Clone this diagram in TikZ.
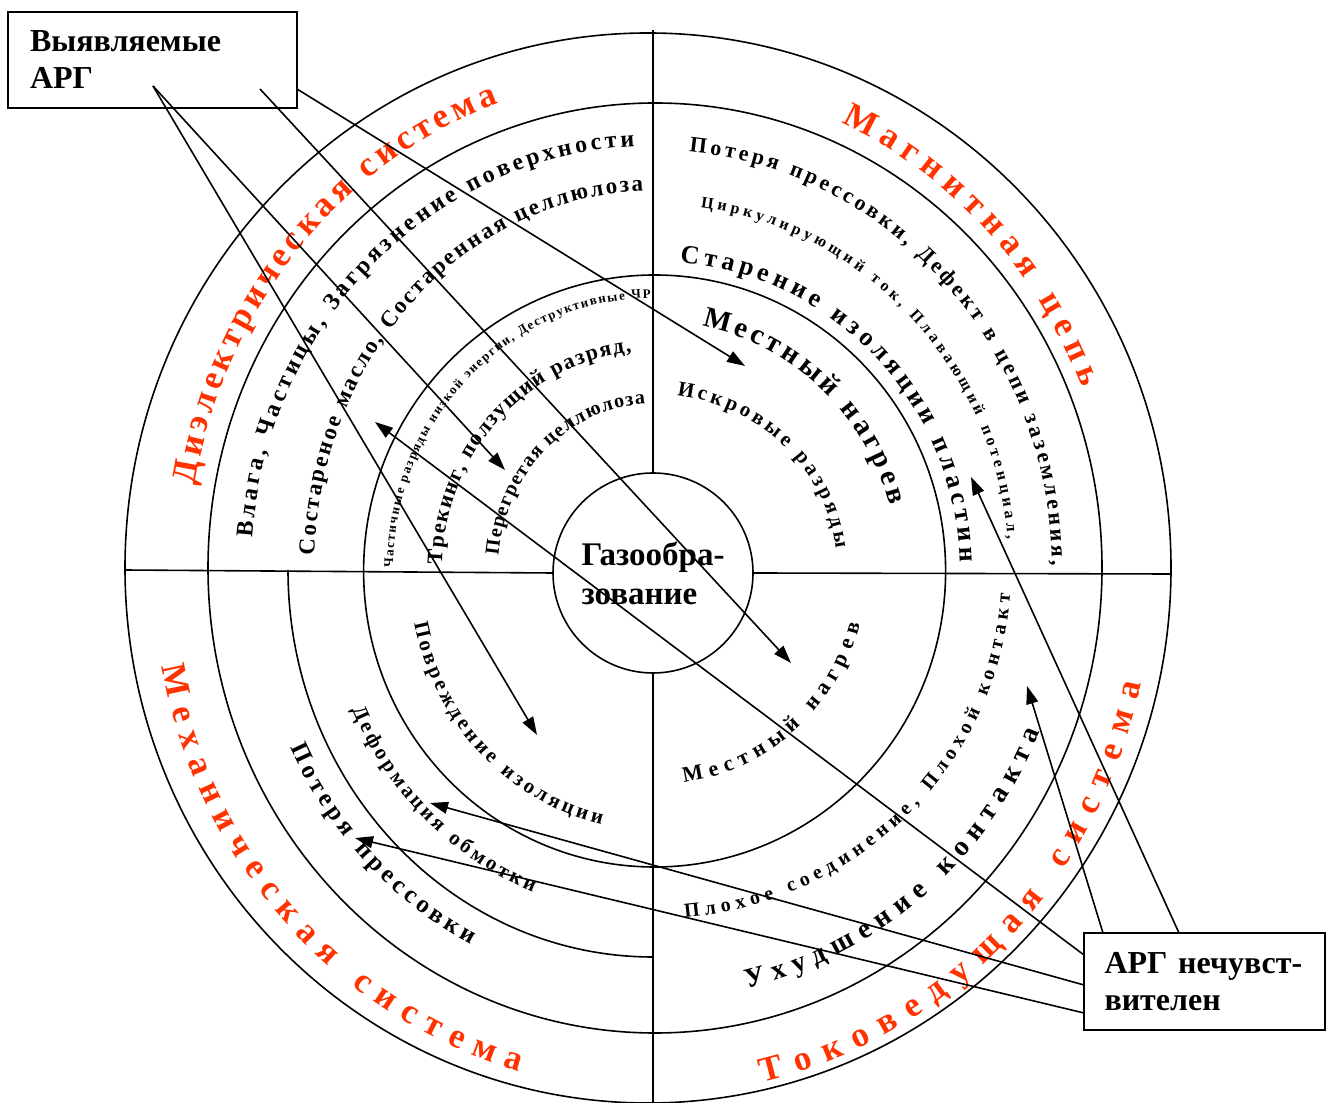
\documentclass[tikz,border=0pt]{standalone}
\usepackage{fontspec}
\setmainfont{Liberation Serif}
\usetikzlibrary{arrows.meta,decorations.text}
\definecolor{sysred}{RGB}{255,51,0}

% letter-spaced text on an elliptic arc round the centre:
% x radius, y radius, start angle, end angle, size (pt), colour, text
\newcommand\ringtext[7]{%
  \path[decorate, decoration={text along path, text align={fit to path}, text color=#6,
      text={|\fontsize{#5}{#5}\selectfont\bfseries|#7}}]
    (#3:#1 and #2) arc[start angle=#3, end angle=#4, x radius=#1, y radius=#2];}

\begin{document}
\begin{tikzpicture}[x=0.5pt, y=0.5pt,
    ring/.style={line width=0.8pt},
    arr/.style={line width=0.8pt, -{Triangle[length=9pt,width=6pt]}},
    argbox/.style={draw, line width=0.8pt, align=left,
      font=\fontsize{16}{18.5}\selectfont\bfseries}]
  \useasboundingbox (0,0) rectangle (1326,1102);

  % rings
  \draw[ring] (648,534) ellipse[x radius=523, y radius=535];
  \draw[ring] (655,534) ellipse[x radius=447, y radius=465];
  \draw[ring] (653,532) ++(180:365 and 387) arc[start angle=180, end angle=270, x radius=365, y radius=387];
  \draw[ring] (654.6,531) ellipse[x radius=291, y radius=296];
  \node[ring, draw, circle, minimum size=100pt, inner sep=0pt, align=left,
    font=\fontsize{16.5}{19.5}\selectfont\bfseries] (gas) at (653,529) {Газообра-\\зование};

  % quadrant lines
  \draw[ring] (gas.north) -- (653,1072);
  \draw[ring] (gas.south) -- (653,0);
  \draw[ring] (gas.west) -- (124,532);
  \draw[ring] (gas.east) -- (1170,528);

  \begin{scope}[shift={(653,532)}]
    % upper left
    \ringtext{465}{495}{170.2}{109.4}{17.5}{sysred}{Диэлектрическая система}
    \ringtext{402}{424}{175.6}{92.7}{12}{black}{Влага, Частицы, Загрязнение поверхности}
    \ringtext{339}{379}{177.8}{91.7}{11.5}{black}{Состареное масло, Состаренная целлюлоза}
    \ringtext{260}{272}{179.5}{90.6}{6.5}{black}{Частичные разряды низкой энергии, Деструктивные ЧР}
    \ringtext{211}{219}{178.6}{95.8}{11}{black}{Трекинг, ползущий разряд,}
    \ringtext{155}{166}{175}{92.8}{10}{black}{Перегретая целлюлоза}
    % upper right
    \ringtext{462}{490}{66}{21.8}{17.5}{sysred}{Магнитная цепь}
    \ringtext{399}{420}{84.8}{0.6}{11}{black}{Потеря прессовки, Дефект в цепи заземления,}
    \ringtext{356}{366}{82.3}{4.8}{8}{black}{Циркулирующий ток, Плавающий потенциал,}
    \ringtext{307}{309}{85}{1.5}{13}{black}{Старение изоляции пластин}
    \ringtext{245}{249}{78.4}{15.1}{14.5}{black}{Местный нагрев}
    \ringtext{184}{176}{82.5}{6.9}{10.5}{black}{Искровые разряды}
    % lower left
    \ringtext{500}{520}{190.7}{254.5}{17.5}{sysred}{Механическая система}
    \ringtext{400}{420}{205}{243}{12.5}{black}{Потеря прессовки}
    \ringtext{329}{346}{203.8}{248.6}{10.5}{black}{Деформация обмотки}
    \ringtext{244}{260}{191.8}{257.8}{10.5}{black}{Повреждение изоляции}
    % lower right
    \ringtext{214}{215}{278.3}{345.4}{11}{black}{Местный нагрев}
    \ringtext{358}{349}{275.1}{356}{10}{black}{Плохое соединение, Плохой контакт}
    \ringtext{418}{429}{283}{337.8}{14}{black}{Ухудшение контакта}
    \ringtext{500}{525}{282.7}{347.5}{17.5}{sysred}{Токоведущая система}
  \end{scope}

  % boxes
  \node[argbox, inner xsep=11pt, text width=122.5pt, minimum height=48pt] (found) at (152.5,1042) {Выявляемые\\АРГ};
  \node[argbox, inner xsep=10.25pt, text width=100pt, minimum height=48.5pt] (insens) at (1204.5,120.5) {\mbox{АРГ нечувст-}\\вителен};

  % line ends
  \coordinate (fa) at (297,1013);
  \coordinate (fb) at (260,1013);
  \coordinate (fc) at (153,1016);
  \coordinate (ia) at (1179,169);
  \coordinate (ib) at (1103,169);
  \coordinate (ic) at (1084,147);
  \coordinate (id) at (1084,117);
  \coordinate (ie) at (1084,89);
  \coordinate (heat1) at (745,736);
  \coordinate (heat2) at (791,439);
  \coordinate (track) at (505,632);
  \coordinate (damage) at (537,367);
  \coordinate (plates) at (971,625);
  \coordinate (contact) at (1027,416);
  \coordinate (oil) at (375,680);
  \coordinate (winding) at (430,299);
  \coordinate (press) at (355,264);

  \draw[arr] (fa) -- (heat1);
  \draw[arr] (fb) -- (heat2);
  \draw[arr] (fc) -- (track);
  \draw[arr] (fc) -- (damage);
  \draw[arr] (ia) -- (plates);
  \draw[arr] (ib) -- (contact);
  \draw[arr] (ic) -- (oil);
  \draw[arr] (id) -- (winding);
  \draw[arr] (ie) -- (press);
\end{tikzpicture}
\end{document}
